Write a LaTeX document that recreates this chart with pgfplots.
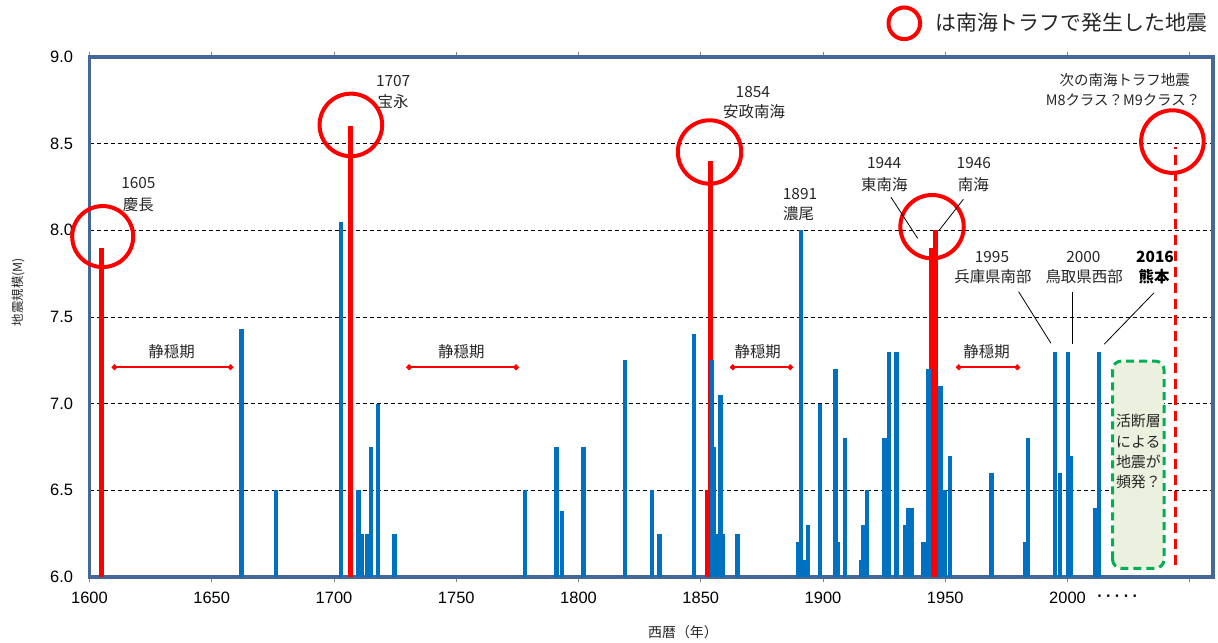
\documentclass[border=0pt]{standalone}
\usepackage{fontspec}
\setmainfont{Liberation Sans}
\newfontfamily\jp{Noto Sans CJK JP}
\usepackage{pgfplots}
\usepackage{pgfplotstable}
\pgfplotsset{compat=1.18}
\usetikzlibrary{arrows.meta}
\definecolor{frame}{HTML}{44689A}
\definecolor{bblue}{HTML}{0070C0}
\definecolor{boxfill}{HTML}{EBF1DE}
\definecolor{boxgreen}{HTML}{00B050}
\definecolor{txt}{HTML}{262626}

\pgfplotstableread{
year mag
1662.2 7.43
1676.2 6.5
1702.9 8.05
1710.0 6.5
1711.2 6.25
1713.5 6.25
1715.2 6.75
1717.9 7.0
1724.8 6.25
1778.0 6.5
1791.0 6.75
1793.2 6.38
1802.0 6.75
1819.1 7.25
1830.0 6.5
1833.1 6.25
1847.2 7.4
1854.5 7.25
1855.5 6.75
1856.6 6.25
1858.1 7.05
1859.2 6.25
1865.0 6.25
1889.7 6.2
1890.9 8.0
1892.1 6.1
1894.0 6.3
1898.8 7.0
1905.1 7.2
1906.2 6.2
1909.0 6.8
1915.7 6.1
1916.6 6.3
1918.0 6.5
1925.1 6.8
1926.9 7.3
1930.0 7.3
1933.7 6.3
1934.8 6.4
1936.3 6.4
1941.1 6.2
1943.1 7.2
1948.0 7.1
1948.9 6.3
1950.0 6.5
1951.9 6.7
1968.9 6.6
1982.7 6.2
1983.8 6.8
1994.8 7.3
1997.0 6.6
2000.2 7.3
2001.3 6.7
2011.1 6.4
2012.8 7.3
}\bluedata

\pgfplotstableread{
year mag
1605.1 7.9
1706.9 8.6
1852.6 6.5
1854.0 8.4
1944.2 7.9
1945.8 8.0
}\reddata

\tikzset{
  ann/.style={font=\jp\fontsize{15.5}{18}\selectfont, text=txt, inner sep=0pt},
  quiet/.style={red, line width=2bp, {Circle[length=5.5bp]}-{Circle[length=5.5bp]}},
  leader/.style={black, line width=0.8bp},
  ring/.style={red, line width=4bp},
}

\begin{document}
\begin{tikzpicture}
\path[use as bounding box] (0,0) rectangle (1218bp,-643bp);
\begin{axis}[
  at={(89.5bp,-577bp)}, anchor=south west,
  scale only axis, width=1123.5bp, height=520bp,
  xmin=1600, xmax=2059.5, ymin=6, ymax=9,
  clip mode=individual,
  xtick={1600,1650,...,2050},
  xticklabels={1600,1650,1700,1750,1800,1850,1900,1950,2000,{}},
  ytick={6,6.5,...,9},
  yticklabel style={/pgf/number format/fixed, /pgf/number format/fixed zerofill, /pgf/number format/precision=1, xshift=-8bp},
  xticklabel style={yshift=-6bp},
  /pgf/number format/assume math mode=true,
  ticklabel style={font=\fontsize{16.5}{19}\selectfont, text=black},
  xtick style={draw=gray, line width=1bp},
  ytick style={draw=none},
  tick align=outside,
  major tick length=5bp,
  axis line style={draw=frame, line width=3.2bp},
  ymajorgrids,
  major grid style={black, line width=0.8bp, dash pattern=on 4bp off 3bp},
]
\addplot[ycomb, draw=red, line width=5bp, mark=none] table[x=year,y=mag]{\reddata};
\addplot[ycomb, draw=bblue, line width=4.3bp, mark=none] table[x=year,y=mag]{\bluedata};
\addplot[red, line width=3bp, dash pattern=on 10bp off 6bp, mark=none] coordinates {(2044.1,6.07) (2044.1,8.48)};

% rings
\draw[ring] (axis cs:1605.4,7.964) circle[radius=30.5bp];
\draw[ring] (axis cs:1706.9,8.608) circle[radius=31.3bp];
\draw[ring] (axis cs:1853.6,8.452) circle[radius=31.7bp];
\draw[ring] (axis cs:1944.6,8.021) circle[radius=31.7bp];
\draw[ring] (axis cs:2042.9,8.512) circle[radius=31.3bp];

% annotations
\node[ann] at (axis cs:1620,8.272) {1605};
\node[ann] at (axis cs:1620,8.147) {慶長};
\node[ann] at (axis cs:1724.2,8.862) {1707};
\node[ann] at (axis cs:1724.2,8.743) {宝永};
\node[ann] at (axis cs:1871.3,8.797) {1854};
\node[ann] at (axis cs:1871.8,8.685) {安政南海};
\node[ann] at (axis cs:1890.6,8.21) {1891};
\node[ann] at (axis cs:1890.0,8.095) {濃尾};
\node[ann] at (axis cs:1925.0,8.387) {1944};
\node[ann] at (axis cs:1925.1,8.266) {東南海};
\node[ann] at (axis cs:1961.7,8.387) {1946};
\node[ann] at (axis cs:1961.5,8.266) {南海};
\node[ann] at (axis cs:1969.1,7.848) {1995};
\node[ann] at (axis cs:1969.5,7.733) {兵庫県南部};
\node[ann] at (axis cs:2006.5,7.848) {2000};
\node[ann] at (axis cs:2006.8,7.733) {鳥取県西部};
\node[ann, font=\jp\bfseries\fontsize{15.5}{18}\selectfont, text=black] at (axis cs:2035.8,7.848) {2016};
\node[ann, font=\jp\bfseries\fontsize{15.5}{18}\selectfont, text=black] at (axis cs:2035.4,7.733) {熊本};
\node[ann, font=\jp\fontsize{14.5}{17}\selectfont] at (axis cs:2023.4,8.868) {次の南海トラフ地震};
\node[ann, font=\jp\fontsize{14.5}{17}\selectfont] at (axis cs:2022.7,8.752) {M8クラス？M9クラス？};

\draw[leader] (axis cs:1927.8,8.191) -- (axis cs:1938.7,7.954);
\draw[leader] (axis cs:1957.4,8.179) -- (axis cs:1947.6,8.002);
\draw[leader] (axis cs:1980.0,7.646) -- (axis cs:1993.2,7.349);
\draw[leader] (axis cs:2001.8,7.646) -- (axis cs:2001.8,7.343);
\draw[leader] (axis cs:2035.4,7.640) -- (axis cs:2015.0,7.343);

% quiet periods
\draw[quiet] (axis cs:1609.1,7.21) -- (axis cs:1658.8,7.21);
\draw[quiet] (axis cs:1729.6,7.21) -- (axis cs:1775.6,7.21);
\draw[quiet] (axis cs:1862.0,7.21) -- (axis cs:1887.7,7.21);
\draw[quiet] (axis cs:1954.4,7.21) -- (axis cs:1980.6,7.21);
\node[ann] at (axis cs:1633.6,7.30) {静穏期};
\node[ann] at (axis cs:1752.1,7.30) {静穏期};
\node[ann] at (axis cs:1873.3,7.30) {静穏期};
\node[ann] at (axis cs:1966.9,7.30) {静穏期};

% active fault box
\draw[boxgreen, fill=boxfill, line width=3bp, dash pattern=on 8bp off 5bp, rounded corners=9bp]
  (axis cs:2018.4,6.05) rectangle (axis cs:2039.5,7.246);
\node[ann, font=\jp\fontsize{15}{18}\selectfont] at (axis cs:2029,6.902) {活断層};
\node[ann, font=\jp\fontsize{15}{18}\selectfont] at (axis cs:2029,6.781) {による};
\node[ann, font=\jp\fontsize{15}{18}\selectfont] at (axis cs:2029,6.666) {地震が};
\node[ann, font=\jp\fontsize{15}{18}\selectfont] at (axis cs:2029,6.551) {頻発？};

\node[font=\bfseries\fontsize{16}{19}\selectfont, inner sep=0pt] at (axis cs:2020.5,6) [yshift=-21bp] {·\kern3.5pt·\kern3.5pt·\kern3.5pt·\kern3.5pt·};
\end{axis}

\node[font=\jp\fontsize{14}{16}\selectfont, text=txt] at (683bp,-632bp) {西暦（年）};
\node[font=\jp\fontsize{12.5}{14}\selectfont, text=txt, rotate=90] at (18bp,-292bp) {地震規模(M)};
\draw[ring] (904.3bp,-23.3bp) circle[radius=15.8bp];
\node[anchor=west, font=\jp\fontsize{21}{24}\selectfont, inner sep=0pt, text=txt] at (935bp,-23bp) {は南海トラフで発生した地震};
\end{tikzpicture}
\end{document}
